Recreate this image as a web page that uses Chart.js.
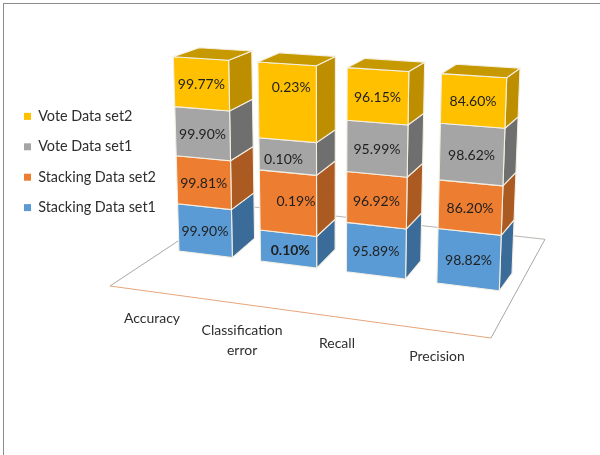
<!DOCTYPE html>
<html>
<head>
<meta charset="utf-8">
<title>Stacking and vote results</title>
<script src="https://cdn.jsdelivr.net/npm/chart.js@4/dist/chart.umd.js"></script>
<style>
    html, body { margin: 0; padding: 0; background: #fff; }
    #frame { position: absolute; left: 3px; top: 3px; width: 597px; height: 452px;
             border-left: 1px solid #8c8c8c; border-top: 1px solid #8c8c8c; box-sizing: border-box; }
    #chart { position: absolute; left: 0; top: 0; }
</style>
</head>
<body>
<div id="frame"></div>
<canvas id="chart" width="600" height="455"></canvas>
<script>
// --- 1. DATA ---
const categories = ['Accuracy', ['Classification', 'error'], 'Recall', 'Precision'];
const stackingSet1 = [99.90, 0.10, 95.89, 98.82];
const stackingSet2 = [99.81, 0.19, 96.92, 86.20];
const voteSet1 = [99.90, 0.10, 95.99, 98.62];
const voteSet2 = [99.77, 0.23, 96.15, 84.60];
const seriesNames = ['Stacking Data set1', 'Stacking Data set2', 'Vote Data set1', 'Vote Data set2'];
const seriesValues = [stackingSet1, stackingSet2, voteSet1, voteSet2];

// --- 2. STYLES ---
const FRONT = ['#5B9BD5', '#ED7D31', '#A5A5A5', '#FFC000'];
const SIDE = ['#3B6C99', '#AB5A22', '#6F6F6F', '#BC8E00'];
const TOP = ['#4A82B5', '#C96A28', '#8A8A8A', '#C69900'];
const EDGE = '#F4EFE2';
const FONT = 'Lato, "Open Sans", sans-serif';

// Corners of the plane holding the bar fronts and the plane holding the bar backs
const FRONT_QUAD = [[173.3, 56.7], [506.7, 77.7], [499.3, 290.7], [179, 251]];
const BACK_QUAD = [[199.3, 47.7], [520, 68.3], [512, 273.3], [204, 231.5]];
const FLOOR = { a: [110, 286], b: [491, 338], c: [545, 239.3], d: [233, 204.7] };

// Hand placed labels in the narrow column: "dataset,category": [dx, dy]
const LABEL_NUDGE = { '3,1': [4, -15], '1,1': [8, -2], '2,1': [-4, 3], '0,1': [2, 2] };
const BOLD_LABEL = '0,1';

// --- 3. PROJECTION ---
function quadMap(q) {
    const [p0, p1, p2, p3] = q;
    const dx1 = p1[0] - p2[0], dx2 = p3[0] - p2[0], sx = p0[0] - p1[0] + p2[0] - p3[0];
    const dy1 = p1[1] - p2[1], dy2 = p3[1] - p2[1], sy = p0[1] - p1[1] + p2[1] - p3[1];
    const den = dx1 * dy2 - dx2 * dy1;
    const g = (sx * dy2 - dx2 * sy) / den;
    const h = (dx1 * sy - sx * dy1) / den;
    const a = p1[0] - p0[0] + g * p1[0], b = p3[0] - p0[0] + h * p3[0], c = p0[0];
    const d = p1[1] - p0[1] + g * p1[1], e = p3[1] - p0[1] + h * p3[1], f = p0[1];
    return (u, v) => {
        const w = g * u + h * v + 1;
        return [(a * u + b * v + c) / w, (d * u + e * v + f) / w];
    };
}
const toFront = quadMap(FRONT_QUAD);
const toBack = quadMap(BACK_QUAD);

function poly(ctx, pts, fill) {
    ctx.beginPath();
    pts.forEach((p, i) => i ? ctx.lineTo(p[0], p[1]) : ctx.moveTo(p[0], p[1]));
    ctx.closePath();
    ctx.fillStyle = fill;
    ctx.fill();
    ctx.strokeStyle = EDGE;
    ctx.lineWidth = 1.1;
    ctx.stroke();
}

function line(ctx, a, b, color) {
    ctx.beginPath();
    ctx.moveTo(a[0], a[1]);
    ctx.lineTo(b[0], b[1]);
    ctx.strokeStyle = color;
    ctx.lineWidth = 1;
    ctx.stroke();
}

// --- 4. 3D COLUMNS ---
const columns3d = {
    id: 'columns3d',
    beforeDatasetsDraw(chart) {
        const ctx = chart.ctx;
        const yScale = chart.scales.y;
        const metas = chart.data.datasets.map((d, i) => chart.getDatasetMeta(i));
        const first = metas[0].data[0];
        const last = metas[0].data[categories.length - 1];
        const left = first.x - first.width / 2;
        const span = last.x + last.width / 2 - left;
        const top = yScale.getPixelForValue(100);
        const height = yScale.getPixelForValue(0) - top;
        const U = x => (x - left) / span;
        const V = y => (y - top) / height;

        line(ctx, FLOOR.d, FLOOR.c, '#b9b5b0');
        line(ctx, FLOOR.d, FLOOR.a, '#aaa6a2');
        line(ctx, FLOOR.c, FLOOR.b, '#aaa6a2');
        line(ctx, FLOOR.a, FLOOR.b, '#E6A57A');

        categories.forEach((cat, c) => {
            metas.forEach((meta, s) => {
                const bar = meta.data[c];
                const u0 = U(bar.x - bar.width / 2), u1 = U(bar.x + bar.width / 2);
                const v0 = V(bar.y), v1 = V(bar.base);
                poly(ctx, [toFront(u1, v0), toBack(u1, v0), toBack(u1, v1), toFront(u1, v1)], SIDE[s]);
                poly(ctx, [toFront(u0, v0), toFront(u1, v0), toFront(u1, v1), toFront(u0, v1)], FRONT[s]);
                if (s === metas.length - 1) {
                    poly(ctx, [toFront(u0, v0), toFront(u1, v0), toBack(u1, v0), toBack(u0, v0)], TOP[s]);
                }
            });
        });

        // value labels on the front faces
        ctx.textAlign = 'center';
        ctx.textBaseline = 'middle';
        ctx.fillStyle = '#1f1f1f';
        metas.forEach((meta, s) => {
            meta.data.forEach((bar, c) => {
                const key = s + ',' + c;
                const nudge = LABEL_NUDGE[key] || [0, 1];
                const p = toFront(U(bar.x), V((bar.y + bar.base) / 2));
                ctx.font = (key === BOLD_LABEL ? 'bold ' : '') + '14px ' + FONT;
                ctx.fillText(seriesValues[s][c].toFixed(2) + '%', p[0] + nudge[0], p[1] + nudge[1]);
            });
        });

        // category names run in a row parallel to the front floor edge
        ctx.font = '14px ' + FONT;
        ctx.fillStyle = '#2e2e2e';
        const x0 = toFront(U(first.x), 1)[0];
        const x1 = toFront(U(last.x), 1)[0];
        categories.forEach((cat, c) => {
            const foot = toFront(U(metas[0].data[c].x), 1)[0];
            const t = (foot - x0) / (x1 - x0);
            const x = 152 + t * 285;
            const y = 318 + t * 38.7;
            [].concat(cat).forEach((txt, i) => ctx.fillText(txt, x, y + i * 20.6));
        });
        return false;
    }
};

// --- 5. CHART ---
// Columns are 100% stacked, each segment is its share of the category total
function shares(values) {
    return values.map((v, c) => v / seriesValues.reduce((sum, sv) => sum + sv[c], 0) * 100);
}

new Chart(document.getElementById('chart'), {
    type: 'bar',
    data: {
        labels: categories,
        datasets: seriesNames.map((name, s) => ({
            label: name,
            data: shares(seriesValues[s]),
            backgroundColor: FRONT[s],
            borderWidth: 0,
            categoryPercentage: 1,
            barPercentage: 0.66
        }))
    },
    options: {
        responsive: false,
        animation: false,
        layout: { padding: { left: 8, right: 60, top: 0, bottom: 131 } },
        scales: {
            x: { stacked: true, display: false },
            y: { stacked: true, display: false, min: 0, max: 100 }
        },
        plugins: {
            tooltip: { enabled: false },
            legend: {
                position: 'left',
                reverse: true,
                labels: {
                    boxWidth: 7,
                    boxHeight: 7,
                    padding: 16,
                    color: '#2e2e2e',
                    font: { family: FONT, size: 14.4 }
                }
            }
        }
    },
    plugins: [columns3d]
});
</script>
</body>
</html>
